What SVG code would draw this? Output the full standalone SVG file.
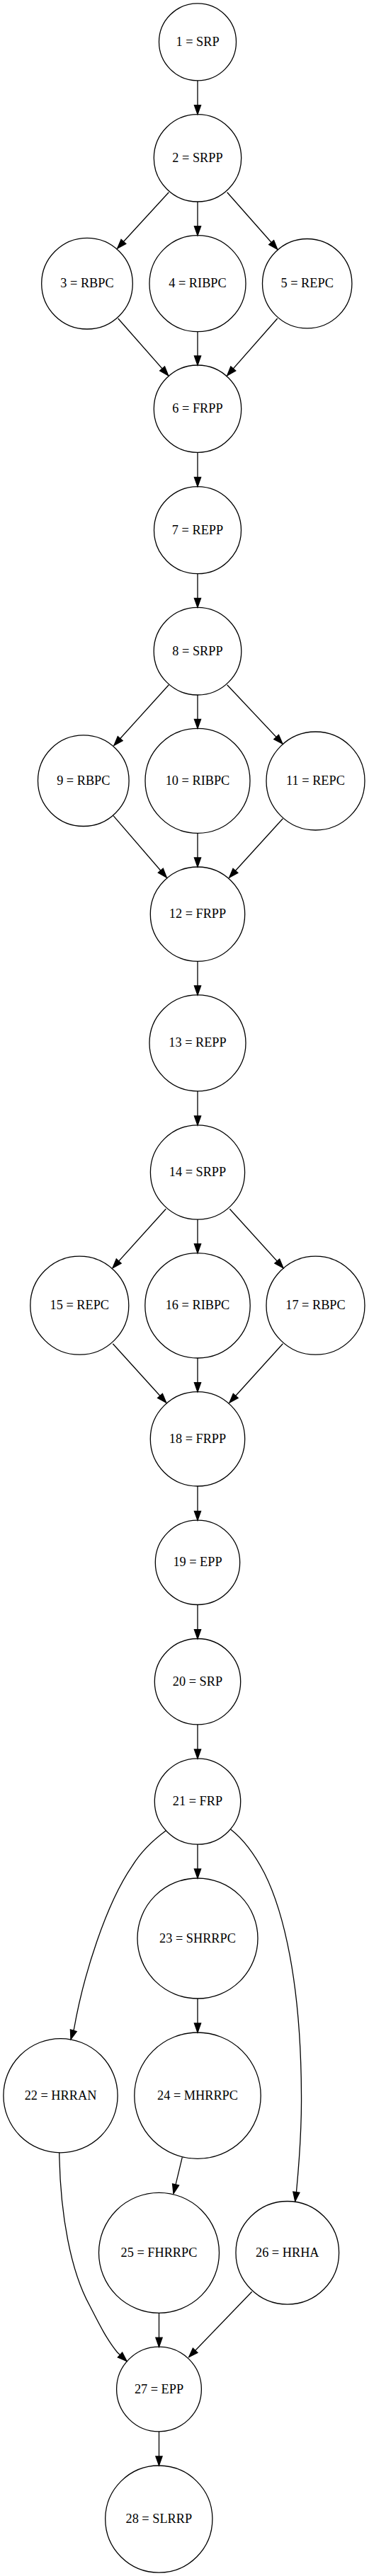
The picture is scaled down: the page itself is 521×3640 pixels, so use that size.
<svg xmlns="http://www.w3.org/2000/svg" width="521" height="3640" viewBox="0 0 521 3640">
<style>
.n circle{fill:none;stroke:#000;stroke-width:1.3}
.n text{font-family:"Liberation Serif","Times New Roman",serif;font-size:18.3px;text-anchor:middle;fill:#000}
#edges path{fill:none;stroke:#000;stroke-width:1.3;marker-end:url(#ah)}
</style>
<defs>
<marker id="ah" markerUnits="userSpaceOnUse" orient="auto" refX="13" refY="0" markerWidth="16" markerHeight="12" viewBox="-1 -6 15 12" overflow="visible">
<path d="M0,-4.6 L13,0 L0,4.6 z" fill="#000" stroke="#000" stroke-width="1.3"/>
</marker>
</defs>
<rect x="0" y="0" width="521" height="3640" fill="#fff"/>
<g id="edges">
<path d="M279,113.8 L279,161.6"/>
<path d="M238.3,271.7 L165.7,351"/>
<path d="M279,285 L279,332.7"/>
<path d="M320.7,271.7 L391.7,352.3"/>
<path d="M166.7,450 L237.7,530.7"/>
<path d="M279,468.7 L279,516"/>
<path d="M391.7,450 L320.7,530.7"/>
<path d="M279,639.4 L279,687.5"/>
<path d="M279,810.7 L279,858.4"/>
<path d="M238.3,967.7 L161,1053.3"/>
<path d="M279,982 L279,1029.3"/>
<path d="M320.7,967.7 L399,1051"/>
<path d="M160,1152.7 L235.3,1240"/>
<path d="M279,1177.3 L279,1225"/>
<path d="M399.3,1156.7 L323.7,1240"/>
<path d="M279,1358.3 L279,1406"/>
<path d="M279,1541.7 L279,1590"/>
<path d="M234.3,1708.3 L159,1791.7"/>
<path d="M279,1723 L279,1770.7"/>
<path d="M324.3,1708.3 L400,1791.7"/>
<path d="M159.3,1898.7 L234.7,1982"/>
<path d="M279,1919 L279,1966.7"/>
<path d="M399.3,1898.7 L324,1982"/>
<path d="M279,2100 L279,2148.3"/>
<path d="M279,2267.3 L279,2315.7"/>
<path d="M279,2436.7 L279,2485"/>
<path d="M234.3,2586.7 C215,2601 198,2618 186.7,2636.7 C150,2690 118,2790 104.5,2867 L100,2881.7"/>
<path d="M279,2606 L279,2654"/>
<path d="M325.7,2585 C345,2600 362,2625 373.3,2646.7 C400,2700 425,2800 425.5,2960 C426,3010 422,3060 418.5,3097 L416.7,3110.6"/>
<path d="M279,2824 L279,2872"/>
<path d="M83.7,3041.7 C85,3130 100,3210 126.7,3258 C138,3280 150,3305 165.7,3324 L179,3336.4"/>
<path d="M257.3,3048.3 L245,3099.6"/>
<path d="M224.5,3268.2 L224.5,3316.2"/>
<path d="M355.7,3238.3 L266.7,3330.7"/>
<path d="M224.5,3435.9 L224.5,3483.9"/>
</g>
<g id="node1" class="n"><circle cx="279" cy="59.3" r="54.5"/><text x="279" y="64.8">1 = SRP</text></g>
<g id="node2" class="n"><circle cx="279" cy="223.3" r="61.7"/><text x="279" y="228.8">2 = SRPP</text></g>
<g id="node3" class="n"><circle cx="123" cy="400.7" r="64.3"/><text x="123" y="406.2">3 = RBPC</text></g>
<g id="node4" class="n"><circle cx="279" cy="400.7" r="68"/><text x="279" y="406.2">4 = RIBPC</text></g>
<g id="node5" class="n"><circle cx="433.7" cy="400.7" r="63.2"/><text x="433.7" y="406.2">5 = REPC</text></g>
<g id="node6" class="n"><circle cx="279" cy="577.7" r="61.7"/><text x="279" y="583.2">6 = FRPP</text></g>
<g id="node7" class="n"><circle cx="279" cy="749.2" r="61.5"/><text x="279" y="754.7">7 = REPP</text></g>
<g id="node8" class="n"><circle cx="279" cy="920.2" r="61.8"/><text x="279" y="925.7">8 = SRPP</text></g>
<g id="node9" class="n"><circle cx="117.8" cy="1103.2" r="64.3"/><text x="117.8" y="1108.7">9 = RBPC</text></g>
<g id="node10" class="n"><circle cx="279" cy="1103.3" r="74"/><text x="279" y="1108.8">10 = RIBPC</text></g>
<g id="node11" class="n"><circle cx="445.5" cy="1103.5" r="69.5"/><text x="445.5" y="1109">11 = REPC</text></g>
<g id="node12" class="n"><circle cx="279" cy="1291.7" r="66.7"/><text x="279" y="1297.2">12 = FRPP</text></g>
<g id="node13" class="n"><circle cx="279" cy="1473.8" r="68"/><text x="279" y="1479.3">13 = REPP</text></g>
<g id="node14" class="n"><circle cx="279" cy="1656.5" r="66.6"/><text x="279" y="1662">14 = SRPP</text></g>
<g id="node15" class="n"><circle cx="112.3" cy="1844.7" r="69.5"/><text x="112.3" y="1850.2">15 = REPC</text></g>
<g id="node16" class="n"><circle cx="279" cy="1844.8" r="74.2"/><text x="279" y="1850.3">16 = RIBPC</text></g>
<g id="node17" class="n"><circle cx="445.5" cy="1844.7" r="69.5"/><text x="445.5" y="1850.2">17 = RBPC</text></g>
<g id="node18" class="n"><circle cx="279" cy="2033.3" r="66.7"/><text x="279" y="2038.8">18 = FRPP</text></g>
<g id="node19" class="n"><circle cx="279" cy="2207.8" r="59.7"/><text x="279" y="2213.3">19 = EPP</text></g>
<g id="node20" class="n"><circle cx="279" cy="2376.2" r="60.7"/><text x="279" y="2381.7">20 = SRP</text></g>
<g id="node21" class="n"><circle cx="279" cy="2545.5" r="60.7"/><text x="279" y="2551">21 = FRP</text></g>
<g id="node22" class="n"><circle cx="85.5" cy="2961.2" r="80.6"/><text x="85.5" y="2966.7">22 = HRRAN</text></g>
<g id="node23" class="n"><circle cx="279" cy="2739" r="85"/><text x="279" y="2744.5">23 = SHRRPC</text></g>
<g id="node24" class="n"><circle cx="279" cy="2961.2" r="89.2"/><text x="279" y="2966.7">24 = MHRRPC</text></g>
<g id="node25" class="n"><circle cx="224.5" cy="3183.3" r="85"/><text x="224.5" y="3188.8">25 = FHRRPC</text></g>
<g id="node26" class="n"><circle cx="405.8" cy="3183.3" r="72.8"/><text x="405.8" y="3188.8">26 = HRHA</text></g>
<g id="node27" class="n"><circle cx="224.5" cy="3376" r="59.9"/><text x="224.5" y="3381.5">27 = EPP</text></g>
<g id="node28" class="n"><circle cx="224.3" cy="3559.6" r="75.6"/><text x="224.3" y="3565.1">28 = SLRRP</text></g>
</svg>
